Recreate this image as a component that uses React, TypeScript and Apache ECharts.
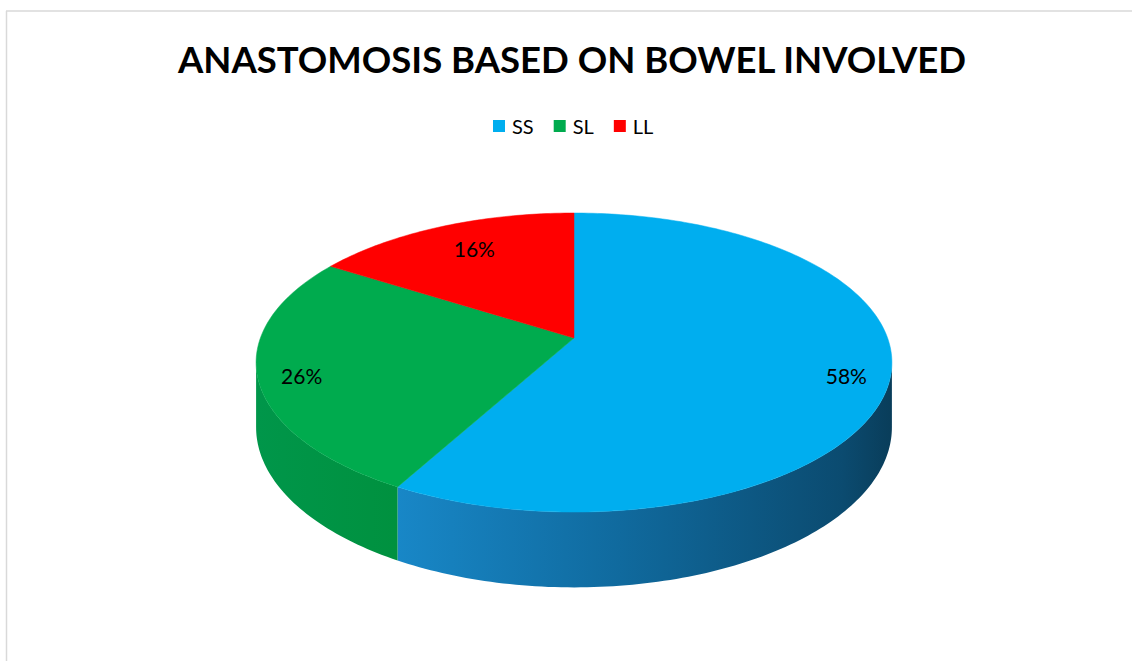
import React, { useEffect, useRef } from 'react';
import * as echarts from 'echarts';

const categories = ['SS', 'SL', 'LL'];
const values = [58, 26, 16];
const chartTitle = 'ANASTOMOSIS BASED ON BOWEL INVOLVED';

const topColors = ['#00AEEF', '#00AB4E', '#FF0000'];
const sideStops: [number, string][][] = [
  [[0, '#1887c7'], [0.45, '#106a9e'], [0.9, '#0b4b70'], [1, '#093d5a']],
  [[0, '#00964a'], [1, '#00913f']],
  [[0, '#c00000'], [1, '#a00000']],
];

// projection geometry (layout only)
const CX = 574, CY = 338, RA = 313.6, RB = 145.5, PERS = 0.164, DEPTH = 63;
const VIS_FROM = 99.4, VIS_TO = 260.6;

function proj(deg: number, lift = 0): [number, number] {
  const t = (deg * Math.PI) / 180;
  const s = 1 / (1 + PERS * Math.cos(t));
  return [CX + RA * Math.sin(t) * s, CY - RB * Math.cos(t) * s + lift * s];
}

function arcPts(a: number, b: number, lift = 0): [number, number][] {
  const pts: [number, number][] = [];
  const n = Math.max(2, Math.ceil(Math.abs(b - a) / 1));
  for (let i = 0; i <= n; i++) pts.push(proj(a + ((b - a) * i) / n, lift));
  return pts;
}

export default function App() {
  const ref = useRef<HTMLDivElement>(null);
  useEffect(() => {
    if (!ref.current) return;
    const chart = echarts.init(ref.current, null, { renderer: 'svg' });
    const total = values.reduce((a, b) => a + b, 0);
    let acc = 0;
    const series = categories.map((name, i) => {
      const start = (acc / total) * 360;
      acc += values[i];
      const end = (acc / total) * 360;
      return {
        type: 'custom',
        name,
        coordinateSystem: 'none',
        itemStyle: { color: topColors[i] },
        data: [[start, end, values[i]]],
        renderItem: (params: any, api: any) => {
          const a = api.value(0) as number;
          const b = api.value(1) as number;
          const v = api.value(2) as number;
          const children: any[] = [];
          const sa = Math.max(a, VIS_FROM);
          const sb = Math.min(b, VIS_TO);
          if (sb > sa) {
            const top = arcPts(sa, sb, 0);
            const bot = arcPts(sa, sb, DEPTH).reverse();
            children.push({
              type: 'polygon',
              z2: 1,
              shape: { points: top.concat(bot) },
              style: {
                fill: new echarts.graphic.LinearGradient(0, 0, 1, 0,
                  sideStops[i].map(([o, c]) => ({ offset: o, color: c }))),
                stroke: null,
              },
            });
          }
          const topFace = [[CX, CY] as [number, number]].concat(arcPts(a, b, 0));
          children.push({
            type: 'polygon',
            z2: 5,
            shape: { points: topFace },
            style: { fill: topColors[i], stroke: topColors[i], lineWidth: 0.5 },
          });
          const mid = (a + b) / 2;
          const t = (mid * Math.PI) / 180;
          const c = Math.cos(t);
          const s = 1 / (1 + PERS * c);
          const f = 0.86 - 0.12 * Math.max(0, c);
          const lx = CX + RA * Math.sin(t) * s * f;
          const ly = CY - RB * c * s * f + 5 - 12 * Math.max(0, c);
          children.push({
            type: 'text',
            z2: 10,
            x: lx,
            y: ly,
            style: {
              text: Math.round((v / total) * 100) + '%',
              fill: '#000',
              font: '21px Lato',
              align: 'center',
              verticalAlign: 'middle',
            },
          });
          return { type: 'group', children };
        },
      };
    });

    chart.setOption({
      animation: false,
      backgroundColor: '#ffffff',
      title: {
        text: chartTitle,
        left: 173,
        top: 35,
        textStyle: { fontFamily: 'Lato', fontWeight: 'bold', fontSize: 36.5, color: '#000' },
      },
      legend: {
        data: categories,
        top: 111,
        left: 488,
        icon: 'rect',
        itemWidth: 12,
        itemHeight: 12,
        itemGap: 20,
        textStyle: { fontFamily: 'Lato', fontSize: 20, color: '#000', padding: [0, 0, 0, 2] },
      },
      graphic: [
        { type: 'line', shape: { x1: 6, y1: 11, x2: 1132, y2: 11 }, style: { stroke: '#d9d9d9', lineWidth: 1.5 } },
        { type: 'line', shape: { x1: 6.5, y1: 11, x2: 6.5, y2: 661 }, style: { stroke: '#d9d9d9', lineWidth: 1.5 } },
      ],
      series,
    });
    return () => chart.dispose();
  }, []);
  return <div ref={ref} style={{ width: 1132, height: 661, position: 'absolute', left: 0, top: 0 }} />;
}
